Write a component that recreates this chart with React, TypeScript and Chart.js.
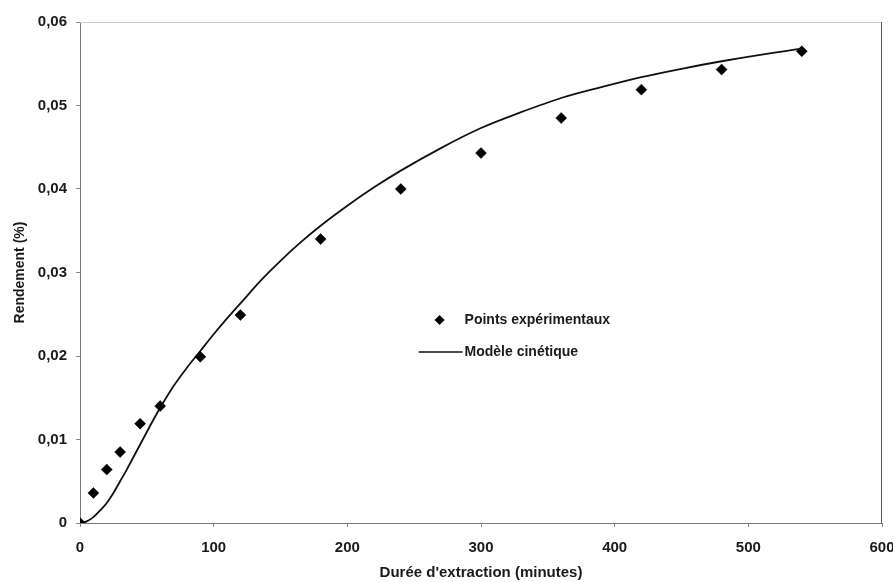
import React, { useEffect, useRef } from "react";
import { Chart, registerables } from "chart.js";

Chart.register(...registerables);

// Experimental points (time in minutes, yield in %)
const expTimes = [0, 10, 20, 30, 45, 60, 90, 120, 180, 240, 300, 360, 420, 480, 540];
const expYields = [0, 0.0036, 0.0064, 0.0085, 0.0119, 0.014, 0.0199, 0.0249, 0.034, 0.04, 0.0443, 0.0485, 0.0519, 0.0543, 0.0565];

// Kinetic model curve
const modelTimes = [0, 5, 10, 15, 20, 25, 30, 35, 40, 45, 50, 55, 60, 70, 80, 90, 100, 110, 120, 135, 150, 165, 180, 200, 220, 240, 270, 300, 330, 360, 390, 420, 450, 480, 510, 540];
const modelYields = [0, 0.0002, 0.0007, 0.0015, 0.0024, 0.0036, 0.005, 0.0064, 0.0079, 0.0094, 0.0109, 0.0124, 0.0138, 0.0164, 0.0186, 0.0206, 0.0226, 0.0245, 0.0263, 0.029, 0.0314, 0.0336, 0.0356, 0.038, 0.0402, 0.0422, 0.0449, 0.0473, 0.0492, 0.0509, 0.0522, 0.0534, 0.0544, 0.0553, 0.0561, 0.0568];

const xTicks = [0, 100, 200, 300, 400, 500, 600];
const yTicks = [0, 0.01, 0.02, 0.03, 0.04, 0.05, 0.06];

const seriesLabels = ["Points expérimentaux", "Modèle cinétique"];
const xTitle = "Durée d'extraction (minutes)";
const yTitle = "Rendement (%)";

const FONT = "'Liberation Sans', Arial, sans-serif";

const framePlugin = {
  id: "frame",
  beforeDatasetsDraw(chart: any) {
    const { ctx, chartArea } = chart;
    const { left, right, top, bottom } = chartArea;
    ctx.save();
    ctx.lineWidth = 1;
    ctx.strokeStyle = "#cfcfcf";
    ctx.beginPath();
    ctx.moveTo(left, top + 0.5);
    ctx.lineTo(right, top + 0.5);
    ctx.stroke();
    ctx.strokeStyle = "#555";
    ctx.beginPath();
    ctx.moveTo(right - 0.5, top);
    ctx.lineTo(right - 0.5, bottom);
    ctx.stroke();
    ctx.restore();
  },
};

const legendPlugin = {
  id: "innerLegend",
  afterDraw(chart: any) {
    const { ctx } = chart;
    const xs = chart.scales.x;
    const ys = chart.scales.y;
    const x0 = xs.getPixelForValue(269);
    const y0 = ys.getPixelForValue(0.0243);
    ctx.save();
    ctx.font = `bold 14px ${FONT}`;
    ctx.textBaseline = "middle";
    ctx.textAlign = "left";
    const textX = x0 + 25;
    const d = chart.data.datasets[0];
    const r = 5;
    ctx.beginPath();
    ctx.moveTo(x0 - r, y0);
    ctx.lineTo(x0, y0 - r);
    ctx.lineTo(x0 + r, y0);
    ctx.lineTo(x0, y0 + r);
    ctx.closePath();
    ctx.fillStyle = d.backgroundColor;
    ctx.fill();
    ctx.fillStyle = "#1a1a1a";
    ctx.fillText(d.label, textX, y0);
    const l = chart.data.datasets[1];
    const cy2 = y0 + 32;
    ctx.strokeStyle = l.borderColor;
    ctx.lineWidth = 1.5;
    ctx.beginPath();
    ctx.moveTo(x0 - 21, cy2);
    ctx.lineTo(textX - 2, cy2);
    ctx.stroke();
    ctx.fillText(l.label, textX, cy2);
    ctx.restore();
  },
};

export default function App() {
  const ref = useRef<HTMLCanvasElement | null>(null);

  useEffect(() => {
    document.body.style.margin = "0";
    const canvas = ref.current;
    if (!canvas) return;
    const chart = new Chart(canvas, {
      type: "scatter",
      data: {
        datasets: [
          {
            label: seriesLabels[0],
            data: expTimes.map((t, i) => ({ x: t, y: expYields[i] })),
            backgroundColor: "#000",
            borderColor: "#000",
            pointStyle: "rectRot",
            pointRadius: 5.5,
            pointBorderWidth: 0.5,
            showLine: false,
            order: 0,
          },
          {
            label: seriesLabels[1],
            data: modelTimes.map((t, i) => ({ x: t, y: modelYields[i] })),
            borderColor: "#111",
            backgroundColor: "#111",
            borderWidth: 1.8,
            pointRadius: 0,
            showLine: true,
            cubicInterpolationMode: "monotone",
            order: 1,
          },
        ],
      },
      options: {
        animation: false,
        responsive: false,
        devicePixelRatio: 1,
        layout: { padding: { top: 22, right: 11, left: 0, bottom: 0 } },
        plugins: {
          legend: { display: false },
          tooltip: { enabled: false },
        },
        scales: {
          x: {
            type: "linear",
            min: 0,
            max: 600,
            afterBuildTicks: (scale: any) => {
              scale.ticks = xTicks.map((v) => ({ value: v }));
            },
            afterFit: (scale: any) => {
              scale.height = 59;
              scale.paddingLeft = 0;
              scale.paddingRight = 0;
            },
            ticks: {
              color: "#1a1a1a",
              font: { family: FONT, size: 15, weight: "bold" },
              padding: 12,
              maxRotation: 0,
            },
            grid: { drawOnChartArea: false, drawTicks: true, tickLength: 4, color: "#888" },
            border: { display: true, color: "#777", width: 1 },
            title: {
              display: true,
              text: xTitle,
              color: "#1a1a1a",
              font: { family: FONT, size: 15, weight: "bold" },
              padding: { top: 0, bottom: 0 },
            },
          },
          y: {
            type: "linear",
            min: 0,
            max: 0.06,
            afterBuildTicks: (scale: any) => {
              scale.ticks = yTicks.map((v) => ({ value: v }));
            },
            afterFit: (scale: any) => {
              scale.width = 80;
              scale.paddingTop = 0;
              scale.paddingBottom = 0;
            },
            ticks: {
              color: "#1a1a1a",
              font: { family: FONT, size: 15, weight: "bold" },
              padding: 9,
              callback: (v: any) => (Number(v) === 0 ? "0" : Number(v).toFixed(2).replace(".", ",")),
            },
            grid: { drawOnChartArea: false, drawTicks: true, tickLength: 4, color: "#888" },
            border: { display: true, color: "#777", width: 1 },
            title: {
              display: true,
              text: yTitle,
              color: "#1a1a1a",
              font: { family: FONT, size: 14, weight: "bold" },
              padding: { top: 12, bottom: 0 },
            },
          },
        },
      },
      plugins: [framePlugin, legendPlugin],
    } as any);
    return () => chart.destroy();
  }, []);

  return (
    <div style={{ width: 893, height: 582, background: "#fff" }}>
      <canvas ref={ref} width={893} height={582} style={{ width: 893, height: 582, display: "block" }} />
    </div>
  );
}
